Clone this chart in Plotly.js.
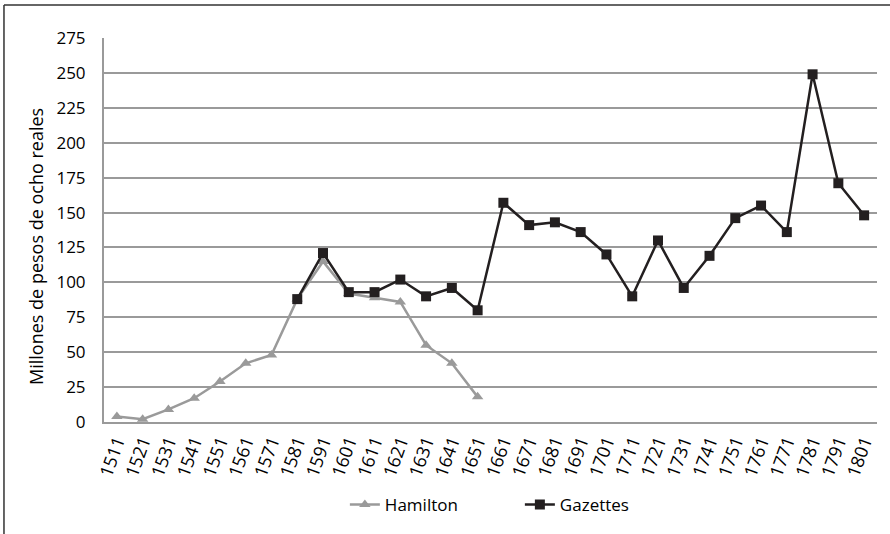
<!DOCTYPE html>
<html>
<head>
<meta charset="utf-8">
<script src="https://cdn.plot.ly/plotly-3.0.1.min.js"></script>
<style>
  html, body { margin: 0; padding: 0; background: #fff; }
  #chart { width: 890px; height: 534px; }
</style>
</head>
<body>
<div id="chart"></div>
<script>
const years = ["1511","1521","1531","1541","1551","1561","1571","1581","1591","1601",
  "1611","1621","1631","1641","1651","1661","1671","1681","1691","1701",
  "1711","1721","1731","1741","1751","1761","1771","1781","1791","1801"];

const hamiltonYears = ["1511","1521","1531","1541","1551","1561","1571","1581","1591","1601",
  "1611","1621","1631","1641","1651"];
const hamiltonValues = [4, 2, 9, 17, 29, 42, 48, 88, 115, 92, 89, 86, 55, 42, 18];

const gazettesYears = ["1581","1591","1601","1611","1621","1631","1641","1651","1661","1671",
  "1681","1691","1701","1711","1721","1731","1741","1751","1761","1771","1781","1791","1801"];
const gazettesValues = [88, 121, 93, 93, 102, 90, 96, 80, 157, 141,
  143, 136, 120, 90, 130, 96, 119, 146, 155, 136, 249, 171, 148];

const yTicks = [0, 25, 50, 75, 100, 125, 150, 175, 200, 225, 250, 275];
const yTitle = "Millones de pesos de ocho reales";

const fontFamily = "Open Sans, Lato, sans-serif";

const traces = [
  {
    x: hamiltonYears, y: hamiltonValues, name: "Hamilton",
    type: "scatter", mode: "lines+markers",
    line: { color: "#9a9a9a", width: 2.5 },
    marker: { symbol: "triangle-up", size: 10, color: "#9a9a9a" }
  },
  {
    x: gazettesYears, y: gazettesValues, name: "Gazettes",
    type: "scatter", mode: "lines+markers",
    line: { color: "#231f20", width: 2.5 },
    marker: { symbol: "square", size: 10, color: "#231f20" }
  }
];

const layout = {
  width: 890, height: 534,
  margin: { l: 104, r: 13, t: 38, b: 111 },
  paper_bgcolor: "#fff", plot_bgcolor: "#fff",
  font: { family: fontFamily, size: 16, color: "#000" },
  showlegend: true,
  legend: {
    orientation: "h", x: 0.538, xanchor: "center", y: -0.213, yanchor: "middle",
    font: { family: fontFamily, size: 17, color: "#000" },
    entrywidth: 130, entrywidthmode: "pixels"
  },
  xaxis: {
    type: "category", categoryorder: "array", categoryarray: years,
    range: [-0.5, 29.5],
    showgrid: false, zeroline: false,
    showline: true, linecolor: "#9a9a9a", linewidth: 2,
    ticks: "", tickangle: -70,
    tickfont: { family: fontFamily, size: 18, color: "#000" },
    fixedrange: true
  },
  yaxis: {
    range: [0, 275],
    tickvals: yTicks, ticktext: yTicks.map(String),
    showgrid: true, gridcolor: "#9a9a9a", gridwidth: 2,
    zeroline: false,
    showline: true, linecolor: "#9a9a9a", linewidth: 2,
    ticks: "", ticklabelstandoff: 13,
    tickfont: { family: fontFamily, size: 17, color: "#000" },
    fixedrange: true
  },
  annotations: [
    { text: yTitle, xref: "paper", yref: "paper", x: -0.088, y: 0.4584,
      xanchor: "center", yanchor: "middle", textangle: -90, showarrow: false,
      font: { family: fontFamily, size: 18, color: "#000" } }
  ],
  shapes: [
    { type: "line", xref: "paper", yref: "paper", x0: -0.1294, x1: -0.1294, y0: 1.0857, y1: -0.32,
      line: { color: "#333", width: 1.5 } },
    { type: "line", xref: "paper", yref: "paper", x0: -0.1294, x1: 1.03, y0: 1.0857, y1: 1.0857,
      line: { color: "#333", width: 1.5 } }
  ]
};

Plotly.newPlot("chart", traces, layout, { displayModeBar: false, staticPlot: true });
</script>
</body>
</html>
